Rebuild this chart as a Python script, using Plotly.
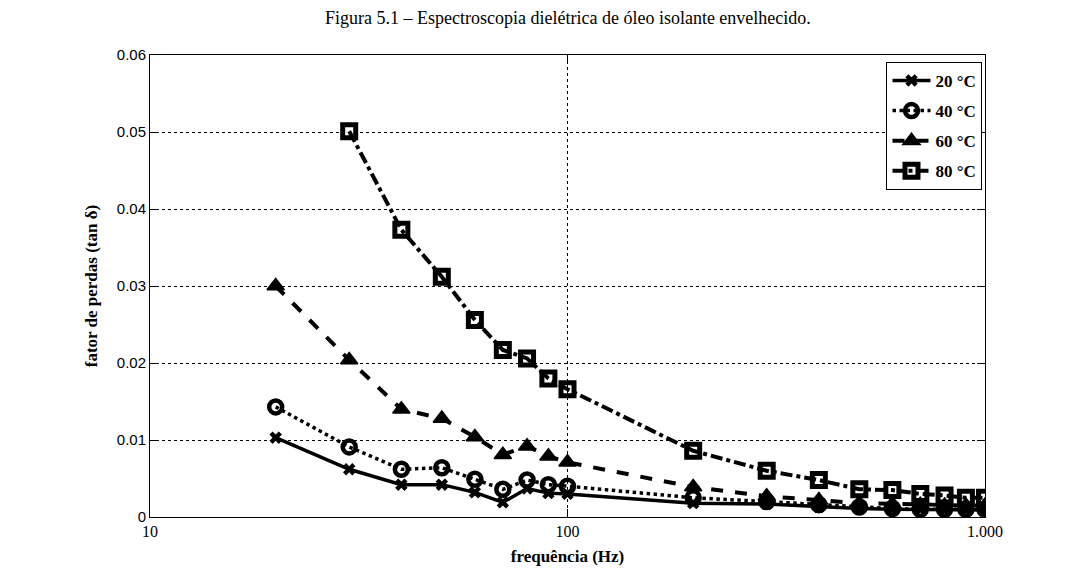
import plotly.graph_objects as go

freq = [20, 30, 40, 50, 60, 70, 80, 90, 100, 200, 300, 400, 500, 600, 700, 800, 900, 1000]
t20 = [0.0103, 0.0062, 0.0042, 0.0042, 0.0032, 0.0019, 0.0037, 0.0031, 0.0030, 0.0018, 0.0017, 0.0013, 0.0011, 0.0010, 0.0010, 0.0009, 0.0009, 0.0009]
t40 = [0.0143, 0.0091, 0.0062, 0.0064, 0.0049, 0.0036, 0.0048, 0.0042, 0.0040, 0.0025, 0.0020, 0.0016, 0.0013, 0.0011, 0.0010, 0.0010, 0.0010, 0.0010]
t60 = [0.0300, 0.0204, 0.0140, 0.0128, 0.0104, 0.0081, 0.0092, 0.0079, 0.0071, 0.0039, 0.0027, 0.0022, 0.0018, 0.0017, 0.0016, 0.0015, 0.0015, 0.0015]
freq80 = [30, 40, 50, 60, 70, 80, 90, 100, 200, 300, 400, 500, 600, 700, 800, 900, 1000]
t80 = [0.0501, 0.0373, 0.0312, 0.0256, 0.0217, 0.0206, 0.0180, 0.0166, 0.0086, 0.0060, 0.0048, 0.0036, 0.0035, 0.0030, 0.0028, 0.0025, 0.0025]

y_ticks = [0, 0.01, 0.02, 0.03, 0.04, 0.05, 0.06]
y_tick_text = ["0", "0.01", "0.02", "0.03", "0.04", "0.05", "0.06"]
x_ticks = [10, 100, 1000]
x_tick_text = ["10", "100", "1.000"]

fig = go.Figure()
fig.add_trace(go.Scatter(x=freq, y=t20, name="<b>20 °C</b>", mode="lines+markers", legendgroup="a",
                         line=dict(color="black", width=3.5, dash="solid"),
                         marker=dict(symbol="x", size=11, color="black")))
fig.add_trace(go.Scatter(x=freq, y=t40, name="<b>40 °C</b>", mode="lines+markers", legendgroup="b",
                         line=dict(color="black", width=3.5, dash="dot"),
                         marker=dict(symbol="circle-open", size=13, color="black", line=dict(width=4.5))))
fig.add_trace(go.Scatter(x=freq, y=t60, name="<b>60 °C</b>", mode="lines+markers", legendgroup="c",
                         line=dict(color="black", width=4, dash="dash"),
                         marker=dict(symbol="triangle-up", size=15, color="black", line=dict(width=1.5, color="black"))))
fig.add_trace(go.Scatter(x=freq80, y=t80, name="<b>80 °C</b>", mode="lines+markers", legendgroup="d",
                         line=dict(color="black", width=4, dash="dashdot"),
                         marker=dict(symbol="square-open", size=13, color="black", line=dict(width=5))))

fig.update_layout(
    width=1079, height=574,
    paper_bgcolor="white", plot_bgcolor="white",
    margin=dict(l=142, r=102, t=47, b=65),
    showlegend=True,
    legend=dict(x=0.997, y=0.985, xanchor="right", yanchor="top",
                bordercolor="black", borderwidth=1, bgcolor="white",
                font=dict(family="Liberation Serif", size=17, color="black"),
                tracegroupgap=5, itemwidth=38),
    annotations=[
        dict(text="Figura 5.1 – Espectroscopia dielétrica de óleo isolante envelhecido.",
             xref="paper", yref="paper", x=0.5, y=1.0, yshift=37, xanchor="center", yanchor="middle",
             showarrow=False, font=dict(family="Liberation Serif", size=18, color="black")),
    ],
)

fig.update_xaxes(type="log", range=[1, 3], tickvals=x_ticks, ticktext=x_tick_text,
                 showgrid=True, gridcolor="black", griddash="dot", gridwidth=1,
                 showline=True, linecolor="black", linewidth=1, mirror="ticks",
                 ticks="inside", ticklen=8, tickcolor="black",
                 tickfont=dict(family="Liberation Serif", size=16, color="black"),
                 title=dict(text="<b>frequência (Hz)</b>", standoff=10,
                            font=dict(family="Liberation Serif", size=17, color="black")),
                 zeroline=False)
fig.update_yaxes(range=[0, 0.06], tickvals=y_ticks, ticktext=y_tick_text,
                 showgrid=True, gridcolor="black", griddash="dot", gridwidth=1,
                 showline=True, linecolor="black", linewidth=1, mirror="ticks",
                 ticks="inside", ticklen=8, tickcolor="black",
                 tickfont=dict(family="Liberation Sans", size=15, color="black"),
                 title=dict(text="<b>fator de perdas (tan δ)</b>", standoff=14,
                            font=dict(family="Liberation Serif", size=17, color="black")),
                 zeroline=False)

fig.write_html("out.html")
